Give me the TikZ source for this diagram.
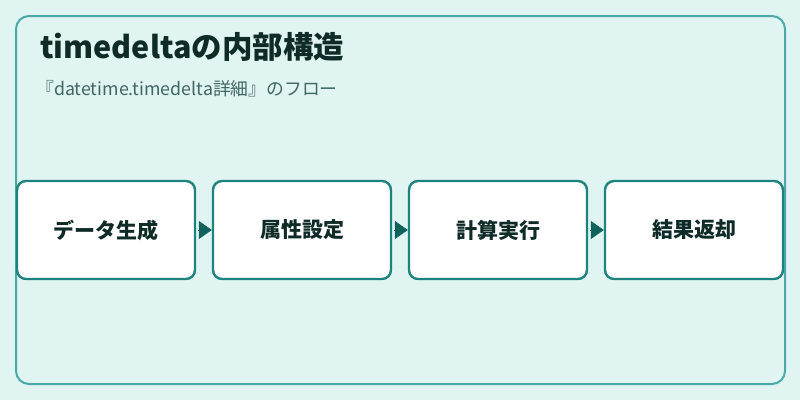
\documentclass[tikz,border=0pt]{standalone}
\usepackage{fontspec}
\setmainfont{Noto Sans CJK JP}
\usetikzlibrary{arrows.meta}
\definecolor{bgc}{HTML}{E0F4F2}
\definecolor{framec}{HTML}{4AA9A8}
\definecolor{boxc}{HTML}{1E837E}
\definecolor{arrc}{HTML}{0F615C}
\definecolor{titlec}{HTML}{0F2B28}
\definecolor{subc}{HTML}{3F6663}
\tikzset{
  stepbox/.style={draw=boxc, line width=2.4pt, fill=white, rounded corners=9pt,
    minimum width=178pt, minimum height=98pt, inner sep=0pt,
    font=\fontsize{21pt}{24pt}\selectfont\bfseries, text=titlec},
  flow/.style={draw=arrc, line width=0.6pt, -{Triangle[length=13pt,width=18pt]}, fill=arrc, shorten <=2pt}
}
\begin{document}
\begin{tikzpicture}[x=1pt,y=-1pt]
\useasboundingbox (0,0) rectangle (800,400);
\fill[bgc] (0,0) rectangle (800,400);
\draw[framec, line width=2pt, rounded corners=13pt] (16,16) rectangle (785,384);
\node[anchor=base west, inner sep=0pt, text=titlec, font=\fontsize{30.5pt}{34pt}\selectfont\bfseries] (title) at (40,58) {timedeltaの内部構造};
\node[anchor=base west, inner sep=0pt, text=subc, font=\fontsize{17.8pt}{20pt}\selectfont] (sub) at (36,95) {『datetime.timedelta詳細』のフロー};
\node[stepbox] (s1) at (106,230) {データ生成};
\node[stepbox] (s2) at (302,230) {属性設定};
\node[stepbox] (s3) at (498,230) {計算実行};
\node[stepbox] (s4) at (694,230) {結果返却};
\draw[flow] (s1.east) -- (s2.west);
\draw[flow] (s2.east) -- (s3.west);
\draw[flow] (s3.east) -- (s4.west);
\end{tikzpicture}
\end{document}
